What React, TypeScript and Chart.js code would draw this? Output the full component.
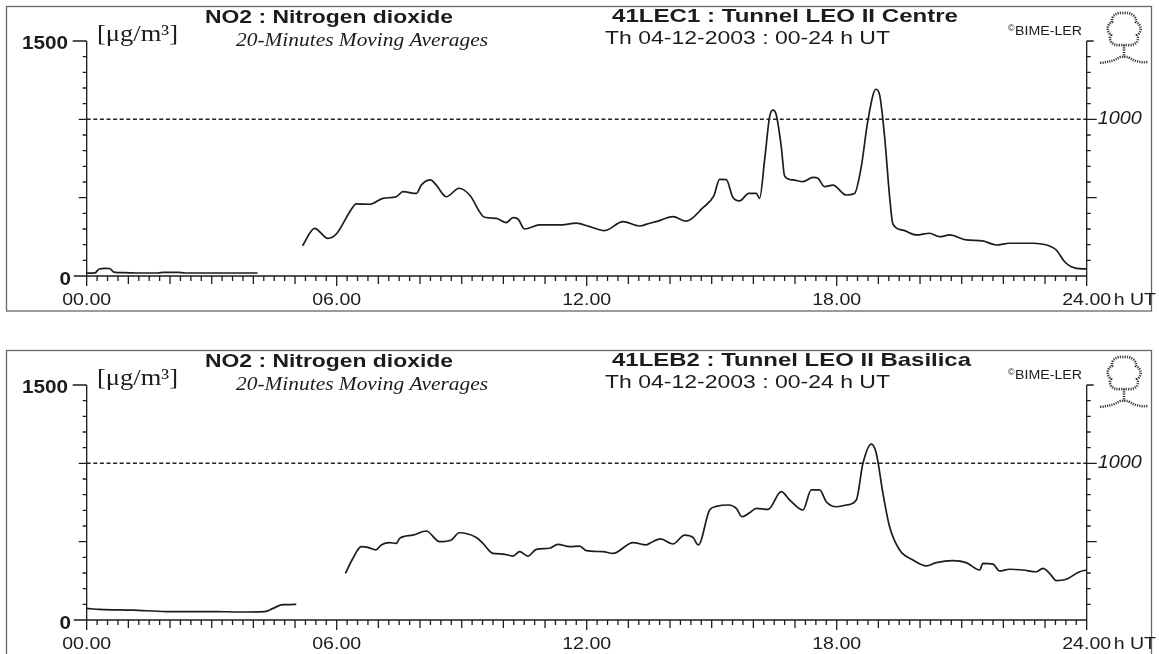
import React, { useEffect, useRef } from "react";
import { Chart, registerables } from "chart.js";

Chart.register(...registerables);

// ---------- data ----------
const X_TICK_LABELS = ["00.00", "06.00", "12.00", "18.00", "24.00"];
const X_TICK_HOURS = [0, 6, 12, 18, 24];
const X_UNIT = "h UT";
const Y_MAX_LABEL = "1500";
const Y_ZERO_LABEL = "0";
const LIMIT_LABEL = "1000";
const LIMIT_VALUE = 1000;
const UNIT_LABEL = "[\u03BCg/m\u00B3]";
const TITLE = "NO2 : Nitrogen dioxide";
const SUBTITLE = "20-Minutes Moving Averages";
const DATE_LABEL = "Th 04-12-2003 : 00-24 h UT";
const COPYRIGHT_MARK = "\u00A9";
const COPYRIGHT = "BIME-LER";
const STATION_TOP = "41LEC1 : Tunnel LEO II Centre";
const STATION_BOTTOM = "41LEB2 : Tunnel LEO II Basilica";

// Top panel (41LEC1)
const topHours1 = [0, 0.2, 0.3, 0.45, 0.55, 0.65, 0.9, 1.3, 1.7, 1.85, 2.2, 2.35, 3, 4.1];
const topValues1 = [18, 20, 45, 49, 48, 25, 21, 19, 19, 23, 23, 19, 19, 19];
const topHours2 = [
  5.18, 5.47, 5.79, 5.99, 6.35, 6.47, 6.79, 7.11, 7.43, 7.59, 7.91, 8.03, 8.25, 8.39, 8.63, 8.94,
  9.19, 9.55, 9.83, 10.07, 10.23, 10.35, 10.51, 10.87, 11.35, 11.75, 12.07, 12.43, 12.87, 13.27,
  13.51, 13.67, 14.07, 14.39, 14.79, 15.05, 15.19, 15.35, 15.51, 15.67, 15.89, 16.07, 16.15, 16.27,
  16.39, 16.47, 16.55, 16.67, 16.75, 16.95, 17.19, 17.43, 17.55, 17.71, 17.91, 18.23, 18.43, 18.59,
  18.75, 18.94, 19.03, 19.15, 19.27, 19.35, 19.59, 19.91, 20.23, 20.47, 20.71, 21.11, 21.5, 21.83,
  22.15, 22.7, 23.11, 23.27, 23.47, 23.63, 23.9, 24,
];
const topValues2 = [
  193, 304, 240, 268, 425, 460, 458, 496, 506, 538, 527, 580, 613, 580, 506, 560,
  517, 375, 368, 341, 372, 364, 300, 326, 326, 337, 315, 290, 347, 319,
  337, 347, 379, 350, 436, 511, 617, 615, 501, 480, 527, 527, 496, 741,
  1017, 1059, 1028, 825, 638, 613, 602, 630, 624, 570, 580, 517, 527, 698,
  995, 1192, 1156, 889, 506, 332, 293, 262, 273, 251, 262, 230, 224, 198,
  209, 209, 191, 166, 91, 59, 45, 45,
];

// Bottom panel (41LEB2)
const botHours1 = [0, 0.31, 1.11, 1.91, 3.11, 3.67, 4.27, 4.47, 4.71, 4.87, 5.03];
const botValues1 = [74, 68, 63, 54, 54, 51, 54, 74, 98, 98, 100];
const botHours2 = [
  6.21, 6.39, 6.59, 6.75, 6.94, 7.07, 7.27, 7.43, 7.51, 7.83, 8.15, 8.47, 8.75, 8.94, 9.35, 9.51,
  9.75, 9.99, 10.23, 10.39, 10.59, 10.79, 11.11, 11.31, 11.59, 11.83, 11.99, 12.39, 12.63, 13.11,
  13.43, 13.51, 13.77, 14.07, 14.35, 14.55, 14.68, 14.95, 15.11, 15.41, 15.59, 15.73, 15.91, 16.07,
  16.35, 16.67, 16.87, 17.19, 17.39, 17.59, 17.75, 17.99, 18.23, 18.47, 18.63, 18.83, 18.95, 19.11,
  19.27, 19.51, 19.83, 20.15, 20.39, 20.79, 21.11, 21.43, 21.51, 21.75, 21.91, 22.15, 22.47, 22.79,
  22.95, 23.11, 23.27, 23.51, 23.83, 24,
];
const botValues2 = [
  298, 394, 468, 464, 447, 479, 494, 489, 521, 542, 568, 500, 511, 557, 527, 489,
  425, 421, 408, 436, 408, 451, 458, 483, 468, 472, 443, 436, 425, 494,
  479, 489, 518, 485, 542, 527, 479, 702, 725, 734, 713, 659, 685, 713,
  706, 819, 766, 702, 830, 830, 755, 723, 734, 766, 1000, 1123, 1064, 808,
  595, 447, 383, 345, 366, 379, 366, 319, 362, 357, 313, 324, 319, 308,
  330, 298, 251, 260, 308, 319,
];

// ---------- helpers ----------
const SANS = "'Liberation Sans', Arial, sans-serif";
const SERIF = "'Liberation Serif', 'Times New Roman', serif";
const INK = "#1c1c1c";

type Seg = { hours: number[]; values: number[] };

function buildPoints(segs: Seg[]) {
  const pts: { x: number; y: number | null }[] = [];
  segs.forEach((s, i) => {
    if (i > 0) pts.push({ x: (segs[i - 1].hours[segs[i - 1].hours.length - 1] + s.hours[0]) / 2, y: null });
    s.hours.forEach((h, j) => pts.push({ x: h, y: s.values[j] }));
  });
  return pts;
}

function fitText(
  ctx: CanvasRenderingContext2D,
  text: string,
  x: number,
  y: number,
  font: string,
  align: "left" | "right" | "center",
  width?: number,
  stretch = 1
) {
  ctx.save();
  ctx.font = font;
  ctx.textBaseline = "middle";
  ctx.textAlign = "left";
  const w = ctx.measureText(text).width;
  const sx = width ? width / w : stretch;
  const tw = w * sx;
  let left = x;
  if (align === "right") left = x - tw;
  if (align === "center") left = x - tw / 2;
  ctx.translate(left, y);
  ctx.scale(sx, 1);
  ctx.fillStyle = INK;
  ctx.fillText(text, 0, 0);
  ctx.restore();
}

function drawTree(ctx: CanvasRenderingContext2D) {
  ctx.save();
  ctx.strokeStyle = "#3a3a3a";
  ctx.lineWidth = 2.6;
  ctx.setLineDash([1.2, 1.1]);
  ctx.lineCap = "butt";
  // crown (lobed outline)
  ctx.beginPath();
  ctx.moveTo(1120, 45);
  ctx.bezierCurveTo(1112, 46, 1108, 40, 1111, 35);
  ctx.bezierCurveTo(1106, 31, 1107, 24, 1112, 22);
  ctx.bezierCurveTo(1111, 16, 1117, 12, 1123, 13);
  ctx.bezierCurveTo(1130, 12, 1137, 16, 1136, 22);
  ctx.bezierCurveTo(1142, 25, 1142, 32, 1137, 35);
  ctx.bezierCurveTo(1140, 41, 1135, 46, 1128, 45);
  ctx.lineTo(1120, 45);
  ctx.stroke();
  // trunk
  ctx.beginPath();
  ctx.moveTo(1124, 45);
  ctx.lineTo(1124, 57);
  ctx.stroke();
  // ground
  ctx.beginPath();
  ctx.moveTo(1100, 63);
  ctx.bezierCurveTo(1108, 62, 1114, 61, 1120, 57);
  ctx.lineTo(1128, 57);
  ctx.bezierCurveTo(1134, 61, 1140, 63, 1148, 62);
  ctx.stroke();
  ctx.restore();
}

function makePanelPlugin(station: string, stationWidth: number) {
  return {
    id: "panelDecor",
    afterDraw(chart: any) {
      const ctx: CanvasRenderingContext2D = chart.ctx;
      const xs = chart.scales.x;
      const ys = chart.scales.y;
      const X = (v: number) => xs.getPixelForValue(v);
      const Y = (v: number) => ys.getPixelForValue(v);
      ctx.save();
      // frame
      ctx.strokeStyle = "#666";
      ctx.lineWidth = 1.3;
      ctx.strokeRect(6.5, 6.5, 1145, 304.5);

      ctx.strokeStyle = INK;
      ctx.lineWidth = 1.3;
      // x axis
      ctx.beginPath();
      ctx.moveTo(X(0) - 13, Y(0));
      ctx.lineTo(X(24), Y(0));
      for (let q = 0; q <= 96; q++) {
        const h = q / 4;
        const len = q % 24 === 0 ? 10 : q % 4 === 0 ? 8 : 5;
        ctx.moveTo(X(h), Y(0));
        ctx.lineTo(X(h), Y(0) + len);
      }
      // left axis
      ctx.moveTo(X(0), Y(0));
      ctx.lineTo(X(0), Y(1500));
      for (let v = 100; v <= 1500; v += 100) {
        const len = v === 1500 ? 14 : v % 500 === 0 ? 8 : 4;
        ctx.moveTo(X(0), Y(v));
        ctx.lineTo(X(0) - len, Y(v));
      }
      // right axis
      ctx.moveTo(X(24), Y(0));
      ctx.lineTo(X(24), Y(1500));
      for (let v = 100; v <= 1500; v += 100) {
        const len = v === 1500 ? 7 : v % 500 === 0 ? 10 : 4;
        ctx.moveTo(X(24), Y(v));
        ctx.lineTo(X(24) + len, Y(v));
      }
      ctx.stroke();
      ctx.restore();

      // axis labels
      fitText(ctx, Y_MAX_LABEL, 68, Y(1500) + 3, `bold 18px ${SANS}`, "right", undefined, 1.15);
      fitText(ctx, Y_ZERO_LABEL, 71, Y(0) + 4, `bold 18px ${SANS}`, "right", undefined, 1.15);
      fitText(ctx, LIMIT_LABEL, X(24) + 11, Y(LIMIT_VALUE), `italic 18px ${SANS}`, "left", undefined, 1.1);
      X_TICK_LABELS.forEach((lab, i) => {
        fitText(ctx, lab, X(X_TICK_HOURS[i]), Y(0) + 24, `17px ${SANS}`, "center", undefined, 1.15);
      });
      fitText(ctx, X_UNIT, X(24) + 27, Y(0) + 24, `17px ${SANS}`, "left", undefined, 1.15);

      // titles
      fitText(ctx, UNIT_LABEL, 97, 35, `23px ${SERIF}`, "left", 81);
      fitText(ctx, TITLE, 205, 18, `bold 19px ${SANS}`, "left", 248);
      fitText(ctx, SUBTITLE, 236, 41, `italic 19px ${SERIF}`, "left", 252);
      fitText(ctx, station, 612, 17, `bold 19px ${SANS}`, "left", stationWidth);
      fitText(ctx, DATE_LABEL, 605, 39, `18px ${SANS}`, "left", 285);
      fitText(ctx, COPYRIGHT_MARK, 1008, 29, `9px ${SANS}`, "left");
      fitText(ctx, COPYRIGHT, 1015, 32, `12px ${SANS}`, "left", 67);
      drawTree(ctx);
    },
  };
}

function Panel({ segs, station, stationWidth, top }: { segs: Seg[]; station: string; stationWidth: number; top: number }) {
  const ref = useRef<HTMLCanvasElement>(null);
  useEffect(() => {
    if (!ref.current) return;
    const chart = new Chart(ref.current, {
      type: "line",
      data: {
        datasets: [
          {
            data: buildPoints(segs) as any,
            borderColor: INK,
            borderWidth: 1.7,
            pointRadius: 0,
            cubicInterpolationMode: "monotone",
            spanGaps: false,
          },
          {
            data: [
              { x: 0, y: LIMIT_VALUE },
              { x: 24, y: LIMIT_VALUE },
            ] as any,
            borderColor: "#222",
            borderWidth: 1.5,
            borderDash: [4, 2.6],
            pointRadius: 0,
          },
        ],
      },
      options: {
        responsive: false,
        animation: false,
        events: [],
        layout: { padding: { left: 86.7, right: 72.3, top: 41, bottom: 68 } },
        plugins: { legend: { display: false }, tooltip: { enabled: false }, title: { display: false } },
        scales: {
          x: { type: "linear", min: 0, max: 24, display: false },
          y: { min: 0, max: 1500, display: false },
        },
      },
      plugins: [makePanelPlugin(station, stationWidth)],
    });
    return () => chart.destroy();
  }, []);
  return (
    <canvas
      ref={ref}
      width={1159}
      height={344}
      style={{ position: "absolute", left: 0, top, width: 1159, height: 344 }}
    />
  );
}

export default function App() {
  return (
    <div
      style={{
        position: "absolute",
        left: 0,
        top: 0,
        width: 1159,
        height: 654,
        overflow: "hidden",
        background: "#fff",
      }}
    >
      <Panel
        segs={[
          { hours: topHours1, values: topValues1 },
          { hours: topHours2, values: topValues2 },
        ]}
        station={STATION_TOP}
        stationWidth={346}
        top={0}
      />
      <Panel
        segs={[
          { hours: botHours1, values: botValues1 },
          { hours: botHours2, values: botValues2 },
        ]}
        station={STATION_BOTTOM}
        stationWidth={359}
        top={344}
      />
    </div>
  );
}
